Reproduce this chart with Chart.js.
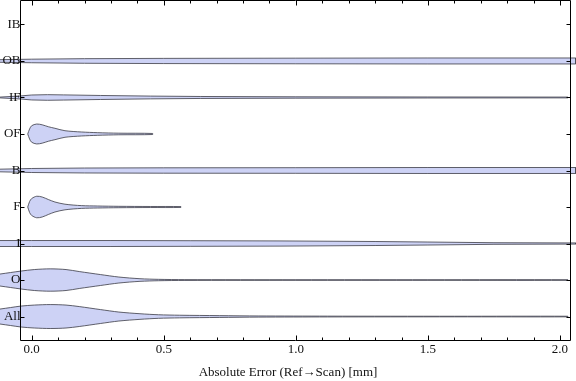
<!DOCTYPE html>
<html>
<head>
<meta charset="utf-8">
<script src="https://cdn.jsdelivr.net/npm/chart.js@4"></script>
<style>
  body { margin: 0; background: #fff; }
</style>
</head>
<body>
<canvas id="myChart" width="576" height="381"></canvas>
<script>
// categories from bottom (1) to top (9)
const categories = ['All', 'O', 'I', 'F', 'B', 'OF', 'IF', 'OB', 'IB'];

// violin outlines: x positions and half widths (in category units)
const xAll = [-0.12, -0.08, -0.04, 0.01, 0.07, 0.13, 0.18, 0.26, 0.33, 0.41, 0.48, 0.56, 0.71, 0.86, 1.12, 1.6, 2.03];
const wAll = [0.205, 0.246, 0.287, 0.314, 0.328, 0.314, 0.273, 0.191, 0.123, 0.077, 0.049, 0.036, 0.025, 0.016, 0.011, 0.008, 0.008];
const xO = [-0.12, -0.08, -0.04, 0.01, 0.07, 0.13, 0.18, 0.26, 0.33, 0.41, 0.48, 0.58, 1.0, 1.5, 2.03];
const wO = [0.164, 0.205, 0.246, 0.287, 0.306, 0.287, 0.232, 0.150, 0.082, 0.036, 0.019, 0.011, 0.008, 0.008, 0.008];
const xI = [-0.12, 0.0, 0.3, 0.6, 0.94, 1.3, 1.5, 1.75, 2.06];
const wI = [0.082, 0.082, 0.082, 0.077, 0.071, 0.055, 0.041, 0.022, 0.016];
const xF = [-0.015, -0.008, 0.0, 0.019, 0.04, 0.063, 0.088, 0.126, 0.188, 0.25, 0.33, 0.45, 0.565];
const wF = [0, 0.150, 0.232, 0.295, 0.273, 0.205, 0.137, 0.077, 0.038, 0.027, 0.019, 0.014, 0.011];
const xB = [-0.12, 0.0, 0.2, 0.5, 1.0, 1.5, 2.06];
const wB = [0.036, 0.055, 0.068, 0.074, 0.077, 0.082, 0.082];
const xOF = [-0.015, -0.008, 0.0, 0.019, 0.04, 0.063, 0.088, 0.126, 0.188, 0.25, 0.33, 0.458];
const wOF = [0, 0.137, 0.227, 0.273, 0.251, 0.199, 0.156, 0.090, 0.055, 0.036, 0.022, 0.014];
const xIF = [-0.12, -0.044, 0.0, 0.06, 0.12, 0.26, 0.45, 0.64, 1.0, 1.5, 2.03];
const wIF = [0.011, 0.041, 0.068, 0.077, 0.071, 0.055, 0.038, 0.027, 0.019, 0.014, 0.011];
const xOB = [-0.12, 0.0, 0.2, 0.5, 1.0, 1.5, 2.06];
const wOB = [0.036, 0.049, 0.063, 0.071, 0.077, 0.082, 0.082];
const xIB = [];
const wIB = [];

const xTicks = [0, 0.5, 1, 1.5, 2];
const xMinorTicks = [0.1, 0.2, 0.3, 0.4, 0.6, 0.7, 0.8, 0.9, 1.1, 1.2, 1.3, 1.4, 1.6, 1.7, 1.8, 1.9];

const violins = [[xAll, wAll], [xO, wO], [xI, wI], [xF, wF], [xB, wB], [xOF, wOF], [xIF, wIF], [xOB, wOB], [xIB, wIB]];

// plot frame edges in x units (the drawing area itself runs past them)
const frameMin = -0.0424, frameMax = 2.0397;

const serif = "'Liberation Serif', 'Times New Roman', serif";

const datasets = [];
violins.forEach(function (v, i) {
    let xs = v[0], ws = v[1], pos = i + 1;
    if (!xs.length) return;
    let pts = [];
    for (let k = 0; k < xs.length; k++) pts.push({ x: xs[k], y: pos + ws[k] });
    for (let k = xs.length - 1; k >= 0; k--) pts.push({ x: xs[k], y: pos - ws[k] });
    let thin = Math.max.apply(null, ws) < 0.1;
    datasets.push({
        label: categories[i],
        data: pts,
        backgroundColor: 'rgb(205, 210, 245)',
        borderColor: 'rgba(60, 60, 70, 0.8)',
        borderWidth: 1,
        pointRadius: 0,
        tension: thin ? 0 : 0.3,
        capBezierPoints: false,
        fill: 'shape'
    });
});

// frame with inward ticks on all four sides
const framePlugin = {
    id: 'frame',
    afterDraw(chart) {
        const ctx = chart.ctx;
        const a = chart.chartArea;
        const xs = chart.scales.x, ys = chart.scales.y;
        const L = Math.round(xs.getPixelForValue(frameMin)) + 0.5;
        const R = Math.round(xs.getPixelForValue(frameMax)) + 0.5;
        const T = Math.round(a.top) + 0.5, B = Math.round(a.bottom) - 0.5;
        ctx.save();
        ctx.strokeStyle = '#000';
        ctx.lineWidth = 1;
        ctx.beginPath();
        ctx.rect(L, T, R - L, B - T);
        xTicks.forEach(function (t) {
            let p = Math.round(xs.getPixelForValue(t)) + 0.5;
            ctx.moveTo(p, B); ctx.lineTo(p, B - 5);
            ctx.moveTo(p, T); ctx.lineTo(p, T + 5);
        });
        xMinorTicks.forEach(function (t) {
            let p = Math.round(xs.getPixelForValue(t)) + 0.5;
            ctx.moveTo(p, B); ctx.lineTo(p, B - 3);
            ctx.moveTo(p, T); ctx.lineTo(p, T + 3);
        });
        categories.forEach(function (c, i) {
            let p = Math.round(ys.getPixelForValue(i + 1)) + 0.5;
            ctx.moveTo(L, p); ctx.lineTo(L + 4, p);
            ctx.moveTo(R, p); ctx.lineTo(R - 4, p);
        });
        ctx.stroke();
        ctx.restore();
    }
};

const config = {
    type: 'line',
    data: { datasets: datasets },
    options: {
        responsive: false,
        animation: false,
        layout: { padding: 0 },
        plugins: { legend: { display: false }, tooltip: { enabled: false } },
        scales: {
            x: {
                type: 'linear',
                min: -0.12,
                max: 2.0606,
                afterFit: s => { s.height = 40; s.paddingLeft = 0; s.paddingRight = 0; },
                afterBuildTicks: s => { s.ticks = xTicks.map(v => ({ value: v })); },
                grid: { display: false, drawTicks: false },
                border: { display: false },
                ticks: {
                    padding: 1,
                    color: '#111',
                    font: { family: serif, size: 13 },
                    callback: v => v.toFixed(1)
                },
                title: {
                    display: true,
                    text: 'Absolute Error (Ref\u2192Scan) [mm]',
                    color: '#111',
                    font: { family: serif, size: 13 },
                    padding: { top: 0, bottom: 1 }
                }
            },
            y: {
                type: 'linear',
                position: { x: frameMin },
                min: 0.33,
                max: 9.67,
                afterFit: s => { s.paddingTop = 0; s.paddingBottom = 0; s.paddingLeft = 0; s.paddingRight = 0; },
                afterBuildTicks: s => { s.ticks = categories.map((c, i) => ({ value: i + 1 })); },
                grid: { display: false, drawTicks: false },
                border: { display: false },
                ticks: {
                    z: 1,
                    padding: 3,
                    color: '#111',
                    font: { family: serif, size: 13 },
                    callback: v => categories[v - 1]
                }
            }
        }
    },
    plugins: [framePlugin]
};

const myChart = new Chart(
    document.getElementById('myChart'),
    config
);
</script>
</body>
</html>
